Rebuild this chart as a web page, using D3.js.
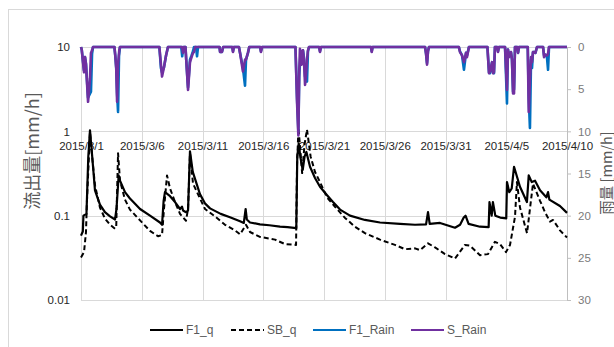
<!DOCTYPE html>
<html><head><meta charset="utf-8">
<script src="https://cdn.jsdelivr.net/npm/d3@7"></script>
<style>body{margin:0;background:#fff;overflow:hidden}</style>
</head><body><svg id="c" width="614" height="347"></svg>
<script>
// ---------- data ----------
const startDate = "2015/3/1";
const xTickLabels = ["2015/3/1","2015/3/6","2015/3/11","2015/3/16","2015/3/21","2015/3/26","2015/3/31","2015/4/5","2015/4/10"];
const flowTicks = [0.01, 0.1, 1, 10];
const flowTickLabels = ["0.01", "0.1", "1", "10"];
const rainTicks = [0, 5, 10, 15, 20, 25, 30];
const seriesNames = ["F1_q", "SB_q", "F1_Rain", "S_Rain"];

// [days since 2015/3/1, value]
const F1_q = [[0,0.058],[0.15,0.065],[0.2,0.1],[0.45,0.105],[0.6,0.5],[0.74,1.03],[0.9,0.55],[1.15,0.2],[1.56,0.135],[1.97,0.11],[2.39,0.098],[2.8,0.09],[2.92,0.12],[3.1,0.3],[3.21,0.26],[3.62,0.19],[4.03,0.16],[4.86,0.12],[5.68,0.1],[6.5,0.083],[6.67,0.078],[6.8,0.15],[6.91,0.19],[7.33,0.17],[7.74,0.145],[8.15,0.12],[8.31,0.128],[8.4,0.115],[8.64,0.11],[8.81,0.115],[8.97,0.58],[9.2,0.33],[9.79,0.18],[10.2,0.14],[10.62,0.122],[11.5,0.105],[12.26,0.096],[13.09,0.086],[13.4,0.082],[13.55,0.12],[13.65,0.09],[13.91,0.083],[14.73,0.079],[15.5,0.077],[16.38,0.074],[17.0,0.073],[17.72,0.071],[17.8,0.5],[17.92,0.72],[18.05,0.5],[18.25,0.35],[18.4,0.5],[18.55,0.57],[18.85,0.38],[19.26,0.28],[19.67,0.22],[20.25,0.175],[20.74,0.145],[21.32,0.118],[22.14,0.1],[23.37,0.089],[24.61,0.083],[26.26,0.08],[27.49,0.078],[28.4,0.079],[28.56,0.11],[28.7,0.08],[29.55,0.082],[30.78,0.072],[31.2,0.078],[31.5,0.095],[31.65,0.1],[31.9,0.08],[32.84,0.074],[33.55,0.073],[33.62,0.145],[33.8,0.1],[33.9,0.145],[34.1,0.1],[34.5,0.095],[35.0,0.093],[35.06,0.25],[35.25,0.19],[35.45,0.21],[35.64,0.38],[36.13,0.22],[36.7,0.145],[36.85,0.3],[37.1,0.25],[37.37,0.26],[37.78,0.2],[38.3,0.165],[38.44,0.19],[38.55,0.155],[39.42,0.13],[40,0.108]];

const SB_q = [[0,0.032],[0.25,0.037],[0.41,0.064],[0.49,0.15],[0.74,0.98],[0.95,0.45],[1.15,0.23],[1.56,0.125],[1.98,0.092],[2.39,0.078],[2.8,0.07],[2.9,0.075],[3.05,0.55],[3.21,0.26],[3.62,0.155],[4.03,0.118],[4.86,0.088],[5.68,0.066],[6.34,0.057],[6.67,0.059],[6.83,0.12],[7.08,0.3],[7.33,0.21],[7.74,0.145],[8.15,0.105],[8.64,0.087],[8.81,0.12],[8.97,0.55],[9.22,0.24],[9.79,0.16],[10.21,0.12],[11.03,0.098],[11.85,0.078],[12.67,0.067],[13.09,0.06],[13.58,0.078],[13.91,0.064],[14.73,0.056],[15.97,0.052],[16.79,0.046],[17.7,0.045],[17.78,0.4],[17.9,1.1],[18.05,0.6],[18.2,0.32],[18.4,0.7],[18.6,1.05],[18.9,0.5],[19.26,0.33],[19.67,0.25],[20.25,0.165],[20.91,0.127],[21.73,0.094],[22.55,0.074],[23.37,0.062],[24.61,0.052],[25.84,0.045],[26.67,0.04],[27.49,0.041],[27.9,0.039],[28.56,0.047],[29.14,0.042],[29.96,0.035],[30.78,0.031],[31.6,0.045],[32.02,0.044],[32.84,0.034],[33.5,0.035],[34.07,0.049],[34.49,0.046],[34.98,0.037],[35.31,0.045],[35.72,0.097],[35.88,0.25],[36.13,0.125],[36.71,0.062],[36.95,0.12],[37.2,0.24],[37.78,0.15],[38.19,0.11],[38.6,0.085],[38.85,0.089],[39.42,0.067],[40,0.055]];

const F1_Rain = [[0,0],[0.06,0.3],[0.25,2.8],[0.33,1.2],[0.41,2.0],[0.58,6.0],[0.82,5.3],[0.91,0.8],[0.99,0],[2.75,0],[2.82,1.0],[2.9,2.5],[2.97,5.5],[3.05,7.7],[3.13,1.0],[3.21,0],[6.45,0],[6.58,2.5],[6.67,3.0],[6.83,2.4],[7.0,1.0],[7.16,0],[8.25,0],[8.33,1.1],[8.41,0],[8.6,0],[8.66,1.5],[8.81,4.8],[8.97,1.5],[9.1,1.0],[9.22,0.5],[9.3,0],[9.47,0],[9.55,1.1],[9.63,0],[11.4,0],[11.45,0.6],[11.6,0.6],[11.7,0],[12.45,0],[12.51,0.5],[12.58,0],[13.0,0],[13.09,0.7],[13.33,2.5],[13.5,4.6],[13.58,1.5],[13.74,0.7],[13.85,0],[14.75,0],[14.81,0.5],[14.9,0],[17.65,0],[17.78,6.0],[17.89,10.0],[17.96,3.5],[18.04,1.5],[18.1,0.5],[18.16,2.0],[18.27,0.4],[18.35,1.2],[18.44,3.5],[18.6,4.1],[18.68,0.5],[18.77,0],[19.6,0],[19.67,0.5],[19.75,0],[23.87,0],[23.93,0.5],[24.0,0],[28.32,0],[28.4,0.8],[28.48,1.9],[28.56,0.5],[28.64,0],[31.1,0],[31.19,0.5],[31.36,1.0],[31.52,2.7],[31.69,0.7],[31.77,1.0],[31.93,0],[33.45,0],[33.58,3.0],[33.66,3.1],[33.83,1.8],[33.91,3.0],[33.99,3.1],[34.07,0],[34.25,0],[34.32,0.5],[34.4,0],[34.9,0],[35.06,6.7],[35.14,0.3],[35.23,1.0],[35.39,0.6],[35.47,1.5],[35.56,5.3],[35.64,5.0],[35.72,0],[35.9,0],[35.97,0.7],[36.05,0],[36.77,0],[36.85,6.0],[36.95,9.6],[37.04,1.5],[37.12,2.5],[37.2,0.6],[37.28,0.6],[37.4,0.7],[37.53,0],[38.03,0],[38.11,1.0],[38.2,0.9],[38.35,1.2],[38.44,2.7],[38.52,0],[40,0]];

const S_Rain = [[0,0],[0.06,0.3],[0.25,3.0],[0.33,1.2],[0.41,2.0],[0.58,6.5],[0.74,3.7],[0.82,0.7],[0.91,0.4],[0.99,0],[2.75,0],[2.82,1.0],[2.9,2.5],[2.97,6.5],[3.05,2.0],[3.15,0.4],[3.21,0],[6.45,0],[6.58,2.1],[6.67,3.5],[6.83,2.4],[7.0,1.0],[7.16,0],[8.32,0],[8.4,0.7],[8.48,0],[8.6,0],[8.66,1.5],[8.81,5.1],[8.97,1.8],[9.1,1.2],[9.22,0.7],[9.3,0.6],[9.4,0],[11.4,0],[11.45,0.6],[11.6,0.6],[11.7,0],[12.45,0],[12.51,0.6],[12.58,0],[13.0,0],[13.09,0.7],[13.33,2.9],[13.5,1.5],[13.58,1.5],[13.74,0.7],[13.85,0],[14.75,0],[14.81,0.6],[14.9,0],[17.65,0],[17.78,6.5],[17.89,10.5],[17.96,3.0],[18.02,0.2],[18.1,0.7],[18.16,2.1],[18.27,0.4],[18.35,1.5],[18.44,4.5],[18.52,3.3],[18.6,1.5],[18.68,0.4],[18.77,0],[19.6,0],[19.67,0.6],[19.75,0],[23.87,0],[23.93,0.6],[24.0,0],[28.32,0],[28.4,0.8],[28.48,2.1],[28.56,0.5],[28.64,0],[31.1,0],[31.19,0.6],[31.36,1.0],[31.52,1.8],[31.69,0.7],[31.77,1.2],[31.93,0],[33.45,0],[33.58,3.1],[33.66,2.9],[33.83,1.8],[33.91,3.1],[33.99,3.0],[34.07,0],[34.25,0],[34.32,0.6],[34.4,0],[34.9,0],[35.06,5.1],[35.14,0.3],[35.23,1.2],[35.39,0.6],[35.47,1.5],[35.56,5.5],[35.64,5.5],[35.72,0],[35.9,0],[35.97,0.7],[36.05,0],[36.77,0],[36.85,7.7],[36.95,4.0],[37.04,1.2],[37.12,1.8],[37.2,0.6],[37.28,0.6],[37.4,0.7],[37.53,0],[38.03,0],[38.11,1.2],[38.2,0.9],[38.35,1.0],[38.44,0.8],[38.52,0],[40,0]];

// ---------- drawing ----------
const parse = d3.timeParse("%Y/%m/%d");
const t0 = parse(startDate);
const toDate = d => new Date(t0.getTime() + d * 86400000);
const tickDates = xTickLabels.map(parse);

const L = 81, R = 567, T = 47, B = 300;
const svg = d3.select("#c");
const latin = "'Liberation Sans', Arial, sans-serif";
const cjk = "'Noto Sans CJK JP', 'Noto Sans', sans-serif";

svg.append("rect").attr("x", 8.5).attr("y", 9.5).attr("width", 610).attr("height", 345)
  .attr("fill", "#fff").attr("stroke", "#d9d9d9");

const x = d3.scaleTime().domain([tickDates[0], tickDates[tickDates.length - 1]]).range([L, R]);
const y = d3.scaleLog().domain([0.01, 10]).range([B, T]);
const yR = d3.scaleLinear().domain([0, 30]).range([T, B]);

// gridlines
const grid = svg.append("g").attr("stroke", "#d9d9d9").attr("stroke-width", 1);
grid.selectAll("line.h").data(flowTicks).join("line")
  .attr("x1", L).attr("x2", R).attr("y1", d => Math.round(y(d)) + 0.5).attr("y2", d => Math.round(y(d)) + 0.5);
grid.selectAll("line.v").data(tickDates).join("line")
  .attr("y1", T).attr("y2", B).attr("x1", d => Math.round(x(d)) + 0.5).attr("x2", d => Math.round(x(d)) + 0.5);

// left axis
const gl = svg.append("g").attr("transform", `translate(${L},0)`)
  .call(d3.axisLeft(y).tickValues(flowTicks).tickSize(0).tickPadding(11)
    .tickFormat((d, i) => flowTickLabels[i]));
gl.select(".domain").remove();
gl.selectAll("text").attr("font-family", latin).attr("font-size", 11.5).attr("fill", "#262626");

// right axis
const gr = svg.append("g").attr("transform", `translate(${R},0)`)
  .call(d3.axisRight(yR).tickValues(rainTicks).tickSize(4).tickPadding(7));
gr.select(".domain").attr("stroke", "#bfbfbf");
gr.selectAll(".tick line").attr("stroke", "#bfbfbf");
gr.selectAll("text").attr("font-family", latin).attr("font-size", 11.5).attr("fill", "#7a7a7a");

// x axis (crosses at 1)
const gx = svg.append("g").attr("transform", `translate(0,${y(1)})`)
  .call(d3.axisBottom(x).tickValues(tickDates).tickSize(0).tickPadding(10.5)
    .tickFormat((d, i) => xTickLabels[i]));
gx.select(".domain").remove();
gx.selectAll("text").attr("font-family", latin).attr("font-size", 11.5).attr("fill", "#262626");

// lines
const flowLine = d3.line().x(d => x(toDate(d[0]))).y(d => y(d[1]));
const rainLine = d3.line().x(d => x(toDate(d[0]))).y(d => yR(d[1]));

svg.append("path").datum(F1_q).attr("d", flowLine).attr("fill", "none")
  .attr("stroke", "#000").attr("stroke-width", 2.2).attr("stroke-linejoin", "round");
svg.append("path").datum(SB_q).attr("d", flowLine).attr("fill", "none")
  .attr("stroke", "#000").attr("stroke-width", 2).attr("stroke-dasharray", "5,3").attr("stroke-linejoin", "round");
svg.append("path").datum(F1_Rain).attr("d", rainLine).attr("fill", "none")
  .attr("stroke", "#0070c0").attr("stroke-width", 2.6).attr("stroke-linejoin", "round");
svg.append("path").datum(S_Rain).attr("d", rainLine).attr("fill", "none")
  .attr("stroke", "#7030a0").attr("stroke-width", 2.6).attr("stroke-linejoin", "round");

// axis titles
svg.append("text").attr("transform", "translate(31,151) rotate(-90)")
  .attr("text-anchor", "middle").attr("dominant-baseline", "central")
  .attr("font-family", cjk).attr("font-size", 18).attr("fill", "#595959").text("流出量[mm/h]");
svg.append("text").attr("transform", "translate(605,173) rotate(-90)")
  .attr("text-anchor", "middle").attr("dominant-baseline", "central")
  .attr("font-family", cjk).attr("font-size", 14.5).attr("fill", "#595959").text("雨量 [mm/h]");

// legend
const legendItems = [
  {name: seriesNames[0], color: "#000", dash: null, x: 150},
  {name: seriesNames[1], color: "#000", dash: "5,3", x: 231},
  {name: seriesNames[2], color: "#0070c0", dash: null, x: 313},
  {name: seriesNames[3], color: "#7030a0", dash: null, x: 411}
];
const lg = svg.append("g");
legendItems.forEach(it => {
  lg.append("line").attr("x1", it.x).attr("x2", it.x + 33).attr("y1", 330).attr("y2", 330)
    .attr("stroke", it.color).attr("stroke-width", 2.2).attr("stroke-dasharray", it.dash);
  lg.append("text").attr("x", it.x + 36).attr("y", 330).attr("dominant-baseline", "central")
    .attr("font-family", latin).attr("font-size", 12).attr("fill", "#595959").text(it.name);
});
</script>
</body></html>
